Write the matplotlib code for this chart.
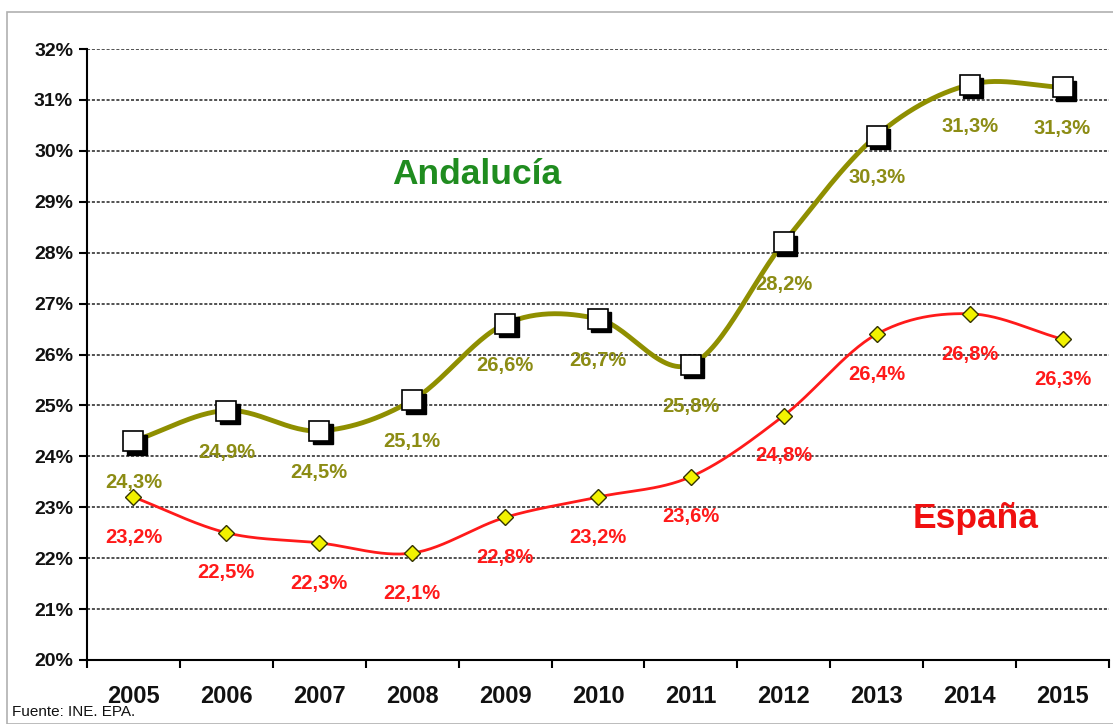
import numpy as np
import matplotlib
matplotlib.use("Agg")
import matplotlib.pyplot as plt
from matplotlib.transforms import offset_copy
from matplotlib.patches import Rectangle

plt.rcParams["font.family"] = ["Liberation Sans", "DejaVu Sans"]

# ── Data ──────────────────────────────────────────
years      = ["2005", "2006", "2007", "2008", "2009", "2010",
              "2011", "2012", "2013", "2014", "2015"]
andalucia  = [24.3, 24.9, 24.5, 25.1, 26.6, 26.7, 25.8, 28.2, 30.3, 31.3, 31.25]
espana     = [23.2, 22.5, 22.3, 22.1, 22.8, 23.2, 23.6, 24.8, 26.4, 26.8, 26.3]
and_labels = ["24,3%", "24,9%", "24,5%", "25,1%", "26,6%", "26,7%",
              "25,8%", "28,2%", "30,3%", "31,3%", "31,3%"]
esp_labels = ["23,2%", "22,5%", "22,3%", "22,1%", "22,8%", "23,2%",
              "23,6%", "24,8%", "26,4%", "26,8%", "26,3%"]

OLIVE = "#8f8f00"
LABEL_OLIVE = "#8c8c14"
RED = "#ff1a1a"
GREEN = "#1f8c1f"


def smooth(xs, ys, n=30):
    """Catmull-Rom curve through the points (Excel-style smoothed line)."""
    xs, ys = np.asarray(xs, float), np.asarray(ys, float)
    px = np.concatenate([[2 * xs[0] - xs[1]], xs, [2 * xs[-1] - xs[-2]]])
    py = np.concatenate([[2 * ys[0] - ys[1]], ys, [2 * ys[-1] - ys[-2]]])
    out_x, out_y = [], []
    t = np.linspace(0, 1, n, endpoint=False)
    for i in range(1, len(px) - 2):
        for arr, out in ((px, out_x), (py, out_y)):
            p0, p1, p2, p3 = arr[i - 1], arr[i], arr[i + 1], arr[i + 2]
            out.extend(0.5 * ((2 * p1) + (-p0 + p2) * t
                              + (2 * p0 - 5 * p1 + 4 * p2 - p3) * t ** 2
                              + (-p0 + 3 * p1 - 3 * p2 + p3) * t ** 3))
    out_x.append(xs[-1]); out_y.append(ys[-1])
    return np.array(out_x), np.array(out_y)


fig = plt.figure(figsize=(11.13, 7.24), dpi=100)
ax = fig.add_axes([87 / 1113, 1 - 660 / 724, (1109 - 87) / 1113, (660 - 49) / 724])

# outer frame
fig.patches.append(Rectangle((7 / 1113, 0), 1, 1 - 12 / 724, transform=fig.transFigure,
                             fill=False, edgecolor="#b0b0b0", linewidth=1.2))

x = np.arange(len(years))

# ── Grid ──────────────────────────────────────────
for v in range(21, 33):
    ax.axhline(v, color="#222222", linestyle=(0, (2, 1.2)), linewidth=1.1, zorder=1)

# ── Andalucía ─────────────────────────────────────
sx, sy = smooth(x, andalucia)
ax.plot(sx, sy, color=OLIVE, linewidth=3.5, zorder=3)
shadow = offset_copy(ax.transData, fig=fig, x=2.5, y=-2.5, units="points")
ax.plot(x, andalucia, linestyle="none", marker="s", markersize=14,
        color="black", transform=shadow, zorder=4)
ax.plot(x, andalucia, linestyle="none", marker="s", markersize=14,
        markerfacecolor="white", markeredgecolor="black", markeredgewidth=1.2, zorder=5)
for xi, v, lab in zip(x, andalucia, and_labels):
    ax.annotate(lab, (xi, v), xytext=(0, -30), textcoords="offset points",
                ha="center", va="center", fontsize=14.5, fontweight="bold",
                color=LABEL_OLIVE, zorder=6)

# ── España ────────────────────────────────────────
sx, sy = smooth(x, espana)
ax.plot(sx, sy, color=RED, linewidth=2, zorder=3)
ax.plot(x, espana, linestyle="none", marker="D", markersize=8.5,
        markerfacecolor="#f2f200", markeredgecolor="#333300", markeredgewidth=1, zorder=5)
for xi, v, lab in zip(x, espana, esp_labels):
    ax.annotate(lab, (xi, v), xytext=(0, -29), textcoords="offset points",
                ha="center", va="center", fontsize=14.5, fontweight="bold",
                color=RED, zorder=6)

# ── Series names ──────────────────────────────────
ax.text(3.69, 29.53, "Andalucía", color=GREEN, fontsize=25.5, fontweight="bold",
        ha="center", va="center")
ax.text(9.06, 22.77, "España", color="#f01010", fontsize=25.5, fontweight="bold",
        ha="center", va="center")

# ── Axes ──────────────────────────────────────────
ax.set_xlim(-0.5, len(years) - 0.5)
ax.set_ylim(20, 32)
ax.set_xticks(np.arange(-0.5, len(years)), minor=False)
ax.set_xticklabels([])
ax.set_xticks(x, minor=True)
ax.set_xticklabels(years, minor=True, fontsize=17, fontweight="bold", color="#111111")
ax.tick_params(axis="x", which="major", length=6, width=1.5, direction="out")
ax.tick_params(axis="x", which="minor", length=0, pad=18)
ax.set_yticks(range(20, 33))
ax.set_yticklabels([f"{v}%" for v in range(20, 33)], fontsize=14, fontweight="bold",
                   color="#111111")
ax.tick_params(axis="y", length=6, width=1.5, direction="out", pad=4)

for side in ("top", "right"):
    ax.spines[side].set_visible(False)
for side in ("left", "bottom"):
    ax.spines[side].set_linewidth(1.5)

fig.text(12 / 1113, 1 - 712 / 724, "Fuente: INE. EPA.", fontsize=11, va="center",
         ha="left", color="#111111")

fig.savefig("out.png", dpi=100)
